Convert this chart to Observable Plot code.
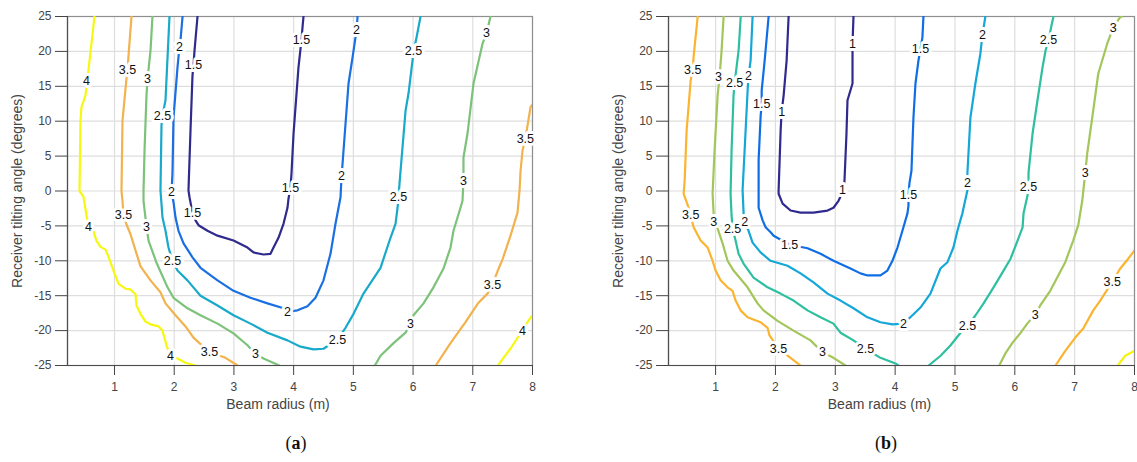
<!DOCTYPE html>
<html>
<head>
<meta charset="utf-8">
<script src="https://cdn.jsdelivr.net/npm/d3@7"></script>
<script src="https://cdn.jsdelivr.net/npm/@observablehq/plot@0.6"></script>
<style>
  html, body { margin: 0; padding: 0; background: #fff; }
  #wrap { position: relative; width: 1137px; height: 462px; overflow: hidden; background: #fff; }
  #pa { position: absolute; left: 0; top: 0; }
  #pb { position: absolute; left: 568px; top: 0; }
  .cap { position: absolute; top: 433px; font-family: "Liberation Serif", "DejaVu Serif", serif; font-size: 18px; color: #111; transform: translateX(-50%); }
</style>
</head>
<body>
<div id="wrap">
  <div id="pa"></div>
  <div id="pb"></div>
  <div class="cap" style="left:296px">(<b>a</b>)</div>
  <div class="cap" style="left:886px">(<b>b</b>)</div>
</div>
<script>
// ---------- axes ----------
const xTicks = [1, 2, 3, 4, 5, 6, 7, 8];
const yTicks = [-25, -20, -15, -10, -5, 0, 5, 10, 15, 20, 25];
const xDomain = [0.213, 8];
const yDomain = [-25, 25];
const xTitle = "Beam radius (m)";
const yTitle = "Receiver tilting angle (degrees)";

// ---------- panel (a) ----------
const levelsA = [1.5, 2, 2.5, 3, 3.5, 4];
const colorsA = ["#2f2b8c", "#1a6fe2", "#19a9ca", "#7cc27a", "#f2b24d", "#f7f80f"];
const linesA = [
  {level: 4, pts: [[0.665,25],[0.564,17.3],[0.514,13.7],[0.447,12.0],[0.43,10.1],[0.414,0],[0.48,-0.8],[0.564,-5.2],[0.648,-5.8],[0.698,-7.1],[0.765,-8.0],[0.849,-8.4],[0.899,-9.4],[0.983,-11.4],[1.067,-13.3],[1.184,-14.0],[1.268,-14.1],[1.352,-14.8],[1.368,-16.4],[1.435,-17.6],[1.519,-18.7],[1.603,-19.1],[1.737,-19.4],[1.804,-20.0],[1.838,-21.1],[1.871,-22.1],[1.938,-23.7],[2.055,-24.0],[2.189,-24.6],[2.357,-25]]},
  {level: 4, pts: [[7.42,-25],[7.63,-22.6],[7.83,-20.0],[7.93,-18.6],[8.0,-17.8]]},
  {level: 3.5, pts: [[1.285,25],[1.235,19.4],[1.218,17.4],[1.201,16.1],[1.134,10.1],[1.117,0],[1.134,-1.4],[1.151,-3.5],[1.201,-4.8],[1.268,-6.2],[1.352,-8.5],[1.436,-10.8],[1.603,-12.8],[1.77,-14.5],[1.854,-16.1],[2.022,-17.8],[2.189,-19.4],[2.323,-21.0],[2.591,-23.1],[2.859,-23.9],[3.06,-25]]},
  {level: 3.5, pts: [[6.38,-25],[6.627,-21.8],[6.878,-18.8],[7.096,-16.0],[7.247,-14.7],[7.33,-13.4],[7.414,-11.5],[7.498,-9.8],[7.632,-6.4],[7.749,-3.1],[7.783,0.1],[7.8,2.9],[7.833,5.8],[7.88,7.5],[7.917,9.4],[7.967,12.0],[8.0,12.4]]},
  {level: 3, pts: [[1.636,25],[1.603,20.1],[1.553,16.0],[1.536,13.7],[1.503,5.8],[1.486,0],[1.486,-1.4],[1.536,-5.1],[1.57,-7.1],[1.7,-10.2],[1.888,-13.8],[1.988,-15.3],[2.223,-16.8],[2.44,-17.8],[2.725,-19.0],[2.993,-20.4],[3.227,-22.1],[3.36,-23.3],[3.495,-24.0],[3.76,-25]]},
  {level: 3, pts: [[5.36,-25],[5.455,-23.6],[5.673,-21.8],[5.874,-20.3],[5.957,-19.0],[6.007,-17.8],[6.175,-16.1],[6.342,-13.8],[6.51,-11.1],[6.627,-8.1],[6.677,-5.7],[6.794,-2.4],[6.828,-1.4],[6.844,1.5],[6.844,4.8],[6.911,8.2],[7.012,15.4],[7.163,21.1],[7.23,22.6],[7.297,25]]},
  {level: 2.5, pts: [[1.921,25],[1.854,13.0],[1.804,10.8],[1.787,9.4],[1.77,0.1],[1.804,-3.8],[1.854,-5.7],[1.904,-8.1],[1.971,-10.0],[2.055,-11.4],[2.222,-12.8],[2.44,-15.0],[2.725,-16.4],[2.993,-17.8],[3.277,-19.0],[3.562,-20.3],[3.897,-21.4],[4.115,-22.3],[4.332,-22.7],[4.5,-22.6],[4.735,-21.3],[4.869,-19.6],[5.003,-17.6],[5.17,-14.7],[5.455,-11.0],[5.622,-6.7],[5.706,-4.7],[5.74,-2.4],[5.757,-0.9],[5.773,1.1],[5.874,11.5],[5.924,14.0],[5.991,18.7],[6.008,20.0],[6.058,22.0],[6.125,25]]},
  {level: 2, pts: [[2.14,25],[2.105,21.6],[2.089,20.7],[2.055,17.7],[1.988,10.5],[1.971,2.5],[1.955,-0.2],[1.988,-1.6],[2.022,-3.8],[2.072,-5.7],[2.156,-7.5],[2.306,-9.5],[2.44,-11.0],[2.725,-12.8],[2.993,-14.3],[3.277,-15.3],[3.562,-16.1],[3.83,-16.8],[3.897,-17.3],[4.064,-17.1],[4.232,-16.5],[4.366,-15.3],[4.5,-12.8],[4.617,-9.0],[4.701,-4.7],[4.785,-0.9],[4.802,2.1],[4.819,3.9],[4.919,15.4],[4.986,19.1],[5.053,23.0],[5.07,25]]},
  {level: 1.5, pts: [[2.39,25],[2.34,20.1],[2.323,18.1],[2.306,16.5],[2.273,8.7],[2.239,0.1],[2.256,-0.9],[2.306,-3.1],[2.356,-4.2],[2.407,-4.9],[2.557,-5.7],[2.725,-6.4],[2.993,-7.1],[3.227,-8.1],[3.328,-8.8],[3.495,-9.1],[3.612,-9.0],[3.663,-8.1],[3.746,-6.7],[3.83,-4.7],[3.897,-2.4],[3.914,-1.1],[3.947,0.5],[3.964,2.5],[3.998,8.2],[4.081,17.7],[4.131,21.6],[4.148,23.4],[4.165,25]]}
];
const labelsA = [
  {t:"4",x:0.531,y:15.8},{t:"4",x:0.564,y:-5.2},{t:"4",x:1.938,y:-23.7},{t:"4",x:7.83,y:-20.0},
  {t:"3.5",x:1.218,y:17.4},{t:"3.5",x:1.151,y:-3.5},{t:"3.5",x:2.591,y:-23.1},{t:"3.5",x:7.33,y:-13.4},{t:"3.5",x:7.88,y:7.5},
  {t:"3",x:1.553,y:16.0},{t:"3",x:1.536,y:-5.1},{t:"3",x:3.36,y:-23.3},{t:"3",x:5.957,y:-19.0},{t:"3",x:6.844,y:1.5},{t:"3",x:7.23,y:22.6},
  {t:"2.5",x:1.804,y:10.8},{t:"2.5",x:1.971,y:-10.0},{t:"2.5",x:4.735,y:-21.3},{t:"2.5",x:5.757,y:-0.9},{t:"2.5",x:6.008,y:20.0},
  {t:"2",x:2.089,y:20.7},{t:"2",x:1.955,y:-0.2},{t:"2",x:3.897,y:-17.3},{t:"2",x:4.802,y:2.1},{t:"2",x:5.053,y:23.0},
  {t:"1.5",x:2.323,y:18.1},{t:"1.5",x:2.306,y:-3.1},{t:"1.5",x:3.947,y:0.5},{t:"1.5",x:4.131,y:21.6}
];

// ---------- panel (b) ----------
const levelsB = [1, 1.5, 2, 2.5, 3, 3.5, 4];
const colorsB = ["#302a8f", "#0f6ee6", "#14a7d7", "#2dbf9f", "#a3c65a", "#fbb430", "#f5f20e"];
const linesB = [
  {level: 3.5, pts: [[0.701,25],[0.634,19.4],[0.617,17.4],[0.583,15.8],[0.516,8.7],[0.483,1.5],[0.466,-0.4],[0.55,-2.4],[0.583,-3.5],[0.633,-5.2],[0.75,-7.1],[0.867,-8.1],[0.95,-10.0],[1.0,-11.4],[1.083,-12.8],[1.2,-13.8],[1.284,-14.3],[1.334,-15.7],[1.417,-17.1],[1.534,-18.1],[1.751,-18.8],[1.868,-19.6],[1.901,-20.7],[2.052,-22.6],[2.252,-23.9],[2.419,-25]]},
  {level: 3.5, pts: [[6.68,-25],[6.843,-22.9],[7.01,-21.0],[7.144,-19.7],[7.311,-17.1],[7.428,-15.7],[7.628,-13.0],[7.762,-11.1],[7.895,-9.7],[8.0,-8.5]]},
  {level: 4, pts: [[7.72,-25],[7.845,-23.6],[8.0,-22.9]]},
  {level: 3, pts: [[1.134,25],[1.1,20.1],[1.067,16.4],[1.034,13.7],[0.983,5.8],[0.95,-0.4],[0.967,-3.2],[0.967,-4.5],[1.034,-5.4],[1.117,-7.5],[1.2,-10.0],[1.3,-11.4],[1.534,-13.8],[1.701,-16.1],[1.801,-17.1],[2.035,-18.6],[2.302,-20.0],[2.586,-21.4],[2.786,-23.1],[2.97,-23.9],[3.17,-25]]},
  {level: 3, pts: [[5.74,-25],[5.84,-23.3],[5.957,-21.8],[6.09,-20.4],[6.208,-19.0],[6.341,-17.7],[6.425,-16.4],[6.592,-14.3],[6.726,-12.1],[6.843,-10.2],[6.976,-7.1],[7.06,-4.9],[7.127,-1.4],[7.177,2.6],[7.21,5.4],[7.31,11.5],[7.394,16.8],[7.544,21.1],[7.644,23.4],[7.76,24.9],[7.79,25]]},
  {level: 2.5, pts: [[1.42,25],[1.384,20.1],[1.318,15.5],[1.3,13.7],[1.267,5.8],[1.25,-0.4],[1.267,-3.5],[1.284,-5.4],[1.334,-7.1],[1.384,-9.0],[1.467,-10.4],[1.634,-12.4],[1.868,-13.8],[2.085,-14.7],[2.302,-15.7],[2.536,-17.1],[2.753,-18.1],[2.97,-19.0],[3.087,-20.3],[3.304,-21.4],[3.504,-22.6],[3.755,-23.9],[4.005,-24.7],[4.055,-25]]},
  {level: 2.5, pts: [[4.56,-25],[4.76,-23.6],[4.927,-22.1],[5.094,-20.3],[5.21,-19.4],[5.344,-17.8],[5.478,-16.1],[5.645,-13.8],[5.812,-11.4],[5.929,-9.7],[6.046,-7.1],[6.13,-5.2],[6.146,-3.2],[6.213,-0.6],[6.229,0.6],[6.229,2.6],[6.296,8.2],[6.379,13.0],[6.463,17.7],[6.513,20.1],[6.563,21.6],[6.613,23.7],[6.646,25]]},
  {level: 2, pts: [[1.618,25],[1.585,18.7],[1.551,16.5],[1.535,14.4],[1.485,5.8],[1.451,0.1],[1.468,-3.2],[1.485,-4.4],[1.551,-5.7],[1.618,-7.4],[1.751,-8.8],[1.918,-10.0],[2.202,-10.7],[2.419,-11.8],[2.636,-13.1],[2.87,-14.7],[3.087,-15.7],[3.304,-16.8],[3.538,-18.1],[3.755,-18.8],[3.955,-19.1],[4.139,-19.0],[4.289,-17.8],[4.423,-16.7],[4.59,-14.7],[4.757,-11.1],[4.874,-10.2],[4.974,-8.1],[5.041,-5.7],[5.124,-3.2],[5.208,0.1],[5.208,1.1],[5.208,2.6],[5.258,10.5],[5.341,15.4],[5.425,19.7],[5.458,22.3],[5.508,25]]},
  {level: 1.5, pts: [[1.886,25],[1.82,18.7],[1.77,14.4],[1.77,12.4],[1.753,10.8],[1.719,4.4],[1.719,-0.4],[1.719,-2.4],[1.786,-4.2],[1.836,-5.2],[1.92,-5.9],[1.97,-6.4],[2.237,-7.7],[2.537,-8.2],[2.754,-9.0],[2.97,-10.0],[3.254,-11.1],[3.421,-11.8],[3.538,-12.1],[3.755,-12.1],[3.871,-11.4],[3.955,-10.0],[4.039,-8.1],[4.139,-5.2],[4.206,-3.2],[4.223,-2.1],[4.223,-0.6],[4.239,1.1],[4.273,2.9],[4.306,10.5],[4.34,15.4],[4.39,18.7],[4.423,20.3],[4.456,22.0],[4.473,25]]},
  {level: 1, pts: [[2.22,25],[2.187,18.7],[2.137,13.7],[2.103,11.3],[2.087,8.7],[2.053,0.1],[2.053,-0.4],[2.12,-1.8],[2.253,-2.8],[2.42,-3.1],[2.637,-3.1],[2.87,-2.8],[2.97,-2.4],[3.054,-1.4],[3.137,0.1],[3.154,1.5],[3.187,8.2],[3.204,13.0],[3.288,15.4],[3.288,20.1],[3.288,21.1],[3.304,25]]}
];
const labelsB = [
  {t:"3.5",x:0.617,y:17.4},{t:"3.5",x:0.583,y:-3.5},{t:"3.5",x:2.052,y:-22.6},{t:"3.5",x:7.628,y:-13.0},
  {t:"3",x:1.05,y:16.4},{t:"3",x:0.967,y:-4.5},{t:"3",x:2.786,y:-23.1},{t:"3",x:6.341,y:-17.7},{t:"3",x:7.177,y:2.6},{t:"3",x:7.644,y:23.4},
  {t:"2.5",x:1.318,y:15.5},{t:"2.5",x:1.284,y:-5.4},{t:"2.5",x:3.504,y:-22.6},{t:"2.5",x:5.21,y:-19.4},{t:"2.5",x:6.229,y:0.6},{t:"2.5",x:6.563,y:21.6},
  {t:"2",x:1.551,y:16.5},{t:"2",x:1.485,y:-4.4},{t:"2",x:4.139,y:-19.0},{t:"2",x:5.208,y:1.1},{t:"2",x:5.458,y:22.3},
  {t:"1.5",x:1.77,y:12.4},{t:"1.5",x:2.237,y:-7.7},{t:"1.5",x:4.223,y:-0.6},{t:"1.5",x:4.423,y:20.3},
  {t:"1",x:2.103,y:11.3},{t:"1",x:3.12,y:0.1},{t:"1",x:3.288,y:21.1}
];

// ---------- drawing ----------
function toRows(lines) {
  return lines.flatMap((l, i) => l.pts.map(([x, y]) => ({id: i, level: l.level, x, y})));
}

function panel(lines, labels, levels, colors, width, marginLeft, marginRight) {
  return Plot.plot({
    width, height: 420,
    marginLeft, marginRight, marginTop: 16, marginBottom: 55,
    x: {domain: xDomain},
    y: {domain: yDomain},
    color: {type: "ordinal", domain: levels, range: colors},
    style: {fontFamily: "'Liberation Sans', Arial, sans-serif", fontSize: "12px", color: "#444", background: "#fff"},
    marks: [
      Plot.gridX(xTicks, {stroke: "#dedede", strokeOpacity: 1, strokeWidth: 1.2}),
      Plot.gridY(yTicks, {stroke: "#dedede", strokeOpacity: 1, strokeWidth: 1.2}),
      Plot.frame({stroke: "#8f8f8f", strokeWidth: 1.2}),
      Plot.line(toRows(lines), {x: "x", y: "y", z: "id", stroke: "level", strokeWidth: 2.2, clip: true}),
      Plot.text(labels, {x: "x", y: "y", text: "t", fill: "#111", stroke: "#fff", strokeWidth: 6, fontSize: 12.5}),
      Plot.ruleX([xDomain[0]], {stroke: "#4d4d4d", strokeWidth: 1.2}),
      Plot.ruleY([yDomain[0]], {stroke: "#4d4d4d", strokeWidth: 1.2}),
      Plot.axisX(xTicks, {tickSize: 10, tickPadding: 7, label: null, fontSize: 12, tickFormat: d => String(d)}),
      Plot.axisY(yTicks, {tickSize: 12, tickPadding: 4, label: null, fontSize: 12, tickFormat: d => String(d)}),
      Plot.text([xTitle], {text: d => d, frameAnchor: "bottom", dy: 43, dx: -22, fontSize: 14, fill: "#444"}),
      Plot.text([yTitle], {text: d => d, frameAnchor: "left", textAnchor: "middle", rotate: -90, dx: -50, fontSize: 14, fill: "#444"})
    ]
  });
}

document.getElementById("pa").append(panel(linesA, labelsA, levelsA, colorsA, 568, 67, 36));
document.getElementById("pb").append(panel(linesB, labelsB, levelsB, colorsB, 569, 100, 3));
</script>
</body>
</html>
